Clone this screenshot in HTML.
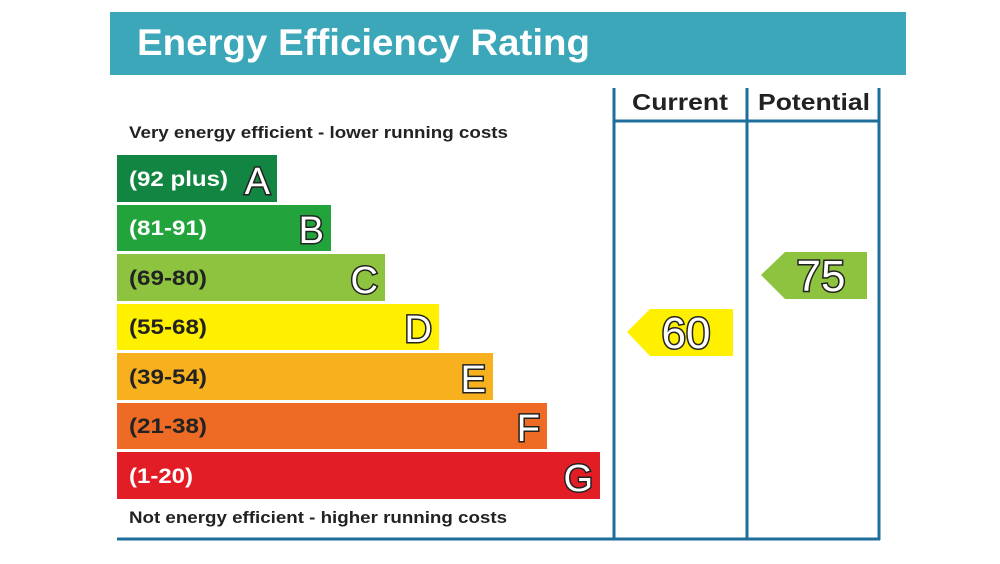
<!DOCTYPE html>
<html><head><style>body{margin:0;background:#fff}svg{display:block}</style></head><body>
<svg width="1000" height="564" viewBox="0 0 1000 564" xmlns="http://www.w3.org/2000/svg" font-family="Liberation Sans, Arial, sans-serif" font-weight="bold">
<rect x="110" y="12" width="796" height="63" fill="#3ba7b9"/>
<text x="137" y="55" font-size="37" fill="#fff" textLength="453" lengthAdjust="spacingAndGlyphs">Energy Efficiency Rating</text>
<g stroke="#1d6e9a" stroke-width="3" fill="none">
<line x1="614" y1="88" x2="614" y2="540"/>
<line x1="747" y1="88" x2="747" y2="540"/>
<line x1="879" y1="88" x2="879" y2="540"/>
<line x1="614" y1="121" x2="879" y2="121"/>
<line x1="117" y1="539" x2="880" y2="539"/>
</g>
<text x="632" y="110" font-size="23" fill="#222" textLength="96" lengthAdjust="spacingAndGlyphs">Current</text>
<text x="758" y="110" font-size="23" fill="#222" textLength="112" lengthAdjust="spacingAndGlyphs">Potential</text>
<text x="129" y="138" font-size="17" fill="#222" textLength="379" lengthAdjust="spacingAndGlyphs">Very energy efficient - lower running costs</text>
<text x="129" y="523" font-size="17" fill="#222" textLength="378" lengthAdjust="spacingAndGlyphs">Not energy efficient - higher running costs</text>
<g font-size="21">
<rect x="117" y="155" width="160" height="47" fill="#138542"/>
<text x="129" y="186" fill="#fff" textLength="99" lengthAdjust="spacingAndGlyphs">(92 plus)</text>
<rect x="117" y="205" width="214" height="46" fill="#22a33c"/>
<text x="129" y="235" fill="#fff" textLength="78" lengthAdjust="spacingAndGlyphs">(81-91)</text>
<rect x="117" y="254" width="268" height="47" fill="#8dc33e"/>
<text x="129" y="285" fill="#222" textLength="78" lengthAdjust="spacingAndGlyphs">(69-80)</text>
<rect x="117" y="304" width="322" height="46" fill="#fff000"/>
<text x="129" y="334" fill="#222" textLength="78" lengthAdjust="spacingAndGlyphs">(55-68)</text>
<rect x="117" y="353" width="376" height="47" fill="#f7b11f"/>
<text x="129" y="384" fill="#222" textLength="78" lengthAdjust="spacingAndGlyphs">(39-54)</text>
<rect x="117" y="403" width="430" height="46" fill="#ed6b24"/>
<text x="129" y="433" fill="#222" textLength="78" lengthAdjust="spacingAndGlyphs">(21-38)</text>
<rect x="117" y="452" width="483" height="47" fill="#e31d25"/>
<text x="129" y="483" fill="#fff" textLength="64" lengthAdjust="spacingAndGlyphs">(1-20)</text>
</g>
<g font-size="38" font-weight="normal" fill="#fff" stroke="#222" stroke-width="3" paint-order="stroke" text-anchor="end">
<text x="270" y="194">A</text>
<text x="324" y="243">B</text>
<text x="378" y="293">C</text>
<text x="432" y="342">D</text>
<text x="486" y="392">E</text>
<text x="540" y="441">F</text>
<text x="593" y="491">G</text>
</g>
<polygon points="627,332 650,309 733,309 733,356 650,356" fill="#fff000"/>
<polygon points="761,275 785,252 867,252 867,299 785,299" fill="#8dc33e"/>
<g font-size="44" font-weight="normal" fill="#fff" stroke="#222" stroke-width="3" paint-order="stroke" text-anchor="middle">
<text x="686" y="348">60</text>
<text x="821" y="291">75</text>
</g>
</svg>
</body></html>
